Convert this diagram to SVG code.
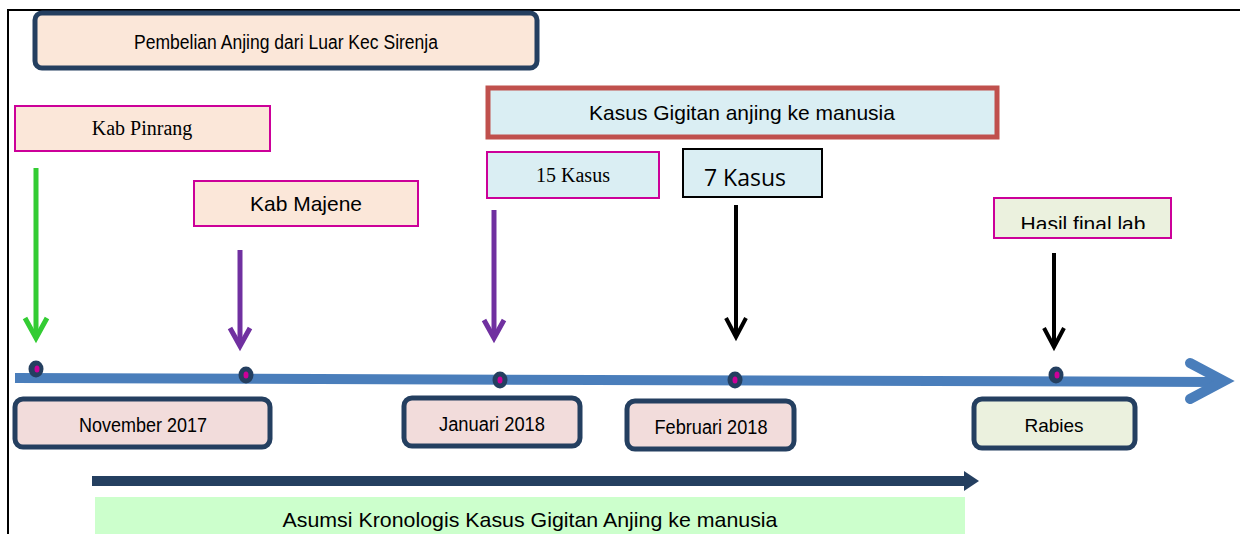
<svg xmlns="http://www.w3.org/2000/svg" width="1240" height="534" viewBox="0 0 1240 534">
<style>
.frame{stroke:#000;stroke-width:2;fill:none}
.navy{fill:#fbe7d9;stroke:#243f60;stroke-width:5}
.date{fill:#f2dcdb;stroke:#243f60;stroke-width:5}
.mag{stroke:#cc0099;stroke-width:2}
.peach{fill:#fbe7d9}
.blue{fill:#daeef3}
.lgreen{fill:#ebf1de}
.sans{font-family:"Liberation Sans",Arial,sans-serif;fill:#000}
.serif{font-family:"Liberation Serif","Times New Roman",serif;fill:#000}
.open{font-family:"Open Sans","Noto Sans",sans-serif;fill:#000}
.dot{fill:#243f60}
.pin{fill:#cc0099}
</style>
<defs>
  <clipPath id="labclip"><rect x="994" y="198" width="177" height="31"/></clipPath>
</defs>
<rect width="1240" height="534" fill="#fff"/>
<path class="frame" d="M8 534 V10 H1240"/>

<g id="connectors">
  <line x1="15" y1="378" x2="1218" y2="382" stroke="#4a7ebb" stroke-width="10"/>
  <polyline points="1190,363 1224,381 1190,399" fill="none" stroke="#4a7ebb" stroke-width="10" stroke-linecap="round" stroke-linejoin="miter"/>
  <g stroke="#33cc33" stroke-width="5" fill="none">
    <line x1="36" y1="168" x2="36" y2="338"/>
    <polyline points="25,318 36,338 47,318"/>
  </g>
  <g stroke="#7030a0" stroke-width="5" fill="none">
    <line x1="240" y1="250" x2="240" y2="346"/>
    <polyline points="230,328 240,346 250,328"/>
    <line x1="494" y1="210" x2="494" y2="338"/>
    <polyline points="484,320 494,338 504,320"/>
  </g>
  <g stroke="#000" stroke-width="4" fill="none">
    <line x1="736" y1="205" x2="736" y2="337"/>
    <polyline points="726,318 736,337 746,318"/>
    <line x1="1054" y1="253" x2="1054" y2="347"/>
    <polyline points="1044,328 1054,347 1064,328"/>
  </g>
  <rect x="92" y="476" width="874" height="10" fill="#243f60"/>
  <polygon points="964,471 979,481 964,491" fill="#243f60"/>
</g>

<g id="dots">
  <ellipse class="dot" cx="36" cy="369" rx="7.5" ry="8.5"/><ellipse class="pin" cx="37" cy="369" rx="2.5" ry="3.5"/>
  <ellipse class="dot" cx="246" cy="375" rx="7.5" ry="8.5"/><ellipse class="pin" cx="246" cy="375" rx="2.5" ry="3.5"/>
  <ellipse class="dot" cx="500" cy="380" rx="7.5" ry="8.5"/><ellipse class="pin" cx="500" cy="380" rx="2.5" ry="3.5"/>
  <ellipse class="dot" cx="735" cy="380" rx="7.5" ry="8.5"/><ellipse class="pin" cx="735" cy="380" rx="2.5" ry="3.5"/>
  <ellipse class="dot" cx="1056" cy="375" rx="7.5" ry="8.5"/><ellipse class="pin" cx="1057" cy="375" rx="2.5" ry="3.5"/>
</g>

<g id="pembelian">
  <rect class="navy" x="35" y="13" width="502" height="55" rx="7"/>
  <text class="sans" x="286" y="49" font-size="20" text-anchor="middle" textLength="304" lengthAdjust="spacingAndGlyphs">Pembelian Anjing dari Luar Kec Sirenja</text>
</g>

<g id="kab-pinrang">
  <rect class="mag peach" x="15" y="106" width="255" height="45"/>
  <text class="serif" x="142" y="135" font-size="20" text-anchor="middle">Kab Pinrang</text>
</g>

<g id="kab-majene">
  <rect class="mag peach" x="194" y="181" width="224" height="45"/>
  <text class="sans" x="306" y="211" font-size="21" text-anchor="middle">Kab Majene</text>
</g>

<g id="kasus-gigitan">
  <rect x="488" y="88" width="509" height="49" fill="#daeef3" stroke="#c0504d" stroke-width="5"/>
  <text class="sans" x="742" y="120" font-size="21" text-anchor="middle">Kasus Gigitan anjing ke manusia</text>
</g>

<g id="kasus-15">
  <rect class="mag blue" x="487" y="152" width="172" height="46"/>
  <text class="serif" x="573" y="182" font-size="20" text-anchor="middle">15 Kasus</text>
</g>

<g id="kasus-7">
  <rect class="blue" x="683" y="149" width="139" height="48" stroke="#000" stroke-width="2"/>
  <text class="open" x="745" y="186" font-size="23" text-anchor="middle">7 Kasus</text>
</g>

<g id="hasil-lab">
  <rect class="mag lgreen" x="994" y="198" width="177" height="40"/>
  <text class="sans" x="1083" y="231" font-size="21" text-anchor="middle" clip-path="url(#labclip)">Hasil final lab</text>
</g>

<g id="november-2017">
  <rect class="date" x="15" y="399" width="255" height="48" rx="8"/>
  <text class="sans" x="143" y="432" font-size="20" text-anchor="middle" textLength="128" lengthAdjust="spacingAndGlyphs">November 2017</text>
</g>

<g id="januari-2018">
  <rect class="date" x="404" y="398" width="176" height="48" rx="8"/>
  <text class="sans" x="492" y="431" font-size="20" text-anchor="middle" textLength="106" lengthAdjust="spacingAndGlyphs">Januari 2018</text>
</g>

<g id="februari-2018">
  <rect class="date" x="627" y="401" width="167" height="48" rx="8"/>
  <text class="sans" x="711" y="434" font-size="20" text-anchor="middle" textLength="113" lengthAdjust="spacingAndGlyphs">Februari 2018</text>
</g>

<g id="rabies">
  <rect x="974" y="399" width="161" height="49" rx="8" fill="#ebf1de" stroke="#243f60" stroke-width="5"/>
  <text class="sans" x="1054" y="432" font-size="19" text-anchor="middle">Rabies</text>
</g>

<g id="asumsi">
  <rect x="95" y="497" width="870" height="40" fill="#ccffcc"/>
  <text class="sans" x="530" y="527" font-size="21" text-anchor="middle" textLength="495" lengthAdjust="spacingAndGlyphs">Asumsi Kronologis Kasus Gigitan Anjing ke manusia</text>
</g>
</svg>
